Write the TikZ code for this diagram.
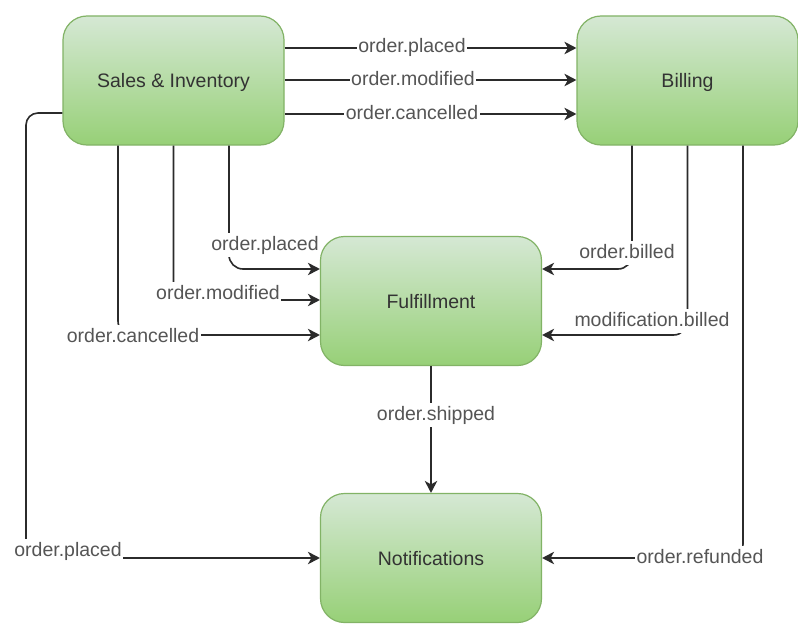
\documentclass[tikz,border=0pt]{standalone}
\usepackage{fontspec}
\setmainfont{Liberation Sans}
\usetikzlibrary{arrows.meta}
\definecolor{gtop}{HTML}{D5E8D4}
\definecolor{gbot}{HTML}{97D077}
\definecolor{gstroke}{HTML}{82B366}
\definecolor{lncol}{HTML}{2B2B2B}
\definecolor{lbltxt}{HTML}{555555}
\definecolor{boxtxt}{HTML}{333333}
\begin{document}
\begin{tikzpicture}[x=1pt,y=-1pt,
  svc/.style={draw=gstroke, line width=1.2pt, rounded corners=24pt,
    top color=gtop, bottom color=gbot, minimum width=221pt, minimum height=129pt,
    text=boxtxt, font=\fontsize{19.5}{23}\selectfont, inner sep=0pt, text depth=0pt},
  conn/.style={draw=lncol, line width=1.6pt, rounded corners=14pt,
    -{Stealth[length=12pt,width=12.5pt,inset=3.5pt]}},
  lbl/.style={fill=white, text=lbltxt, font=\fontsize{19.5}{23}\selectfont,
    inner xsep=1.5pt, inner ysep=3pt, text depth=4pt, rounded corners=0pt}]
\useasboundingbox (0,0) rectangle (798,634);
\fill[white] (0,0) rectangle (798,634);
% services
\node[svc] (S) at (173.5,80.5) {Sales \& Inventory};
\node[svc] (B) at (687.5,80.5) {Billing};
\node[svc] (F) at (431,301) {Fulfillment};
\node[svc] (N) at (431,558) {Notifications};
% Sales -> Billing
\draw[conn] ([yshift=32.5pt]S.east) -- ([yshift=32.5pt]B.west)
  node[lbl] (l1) at (412,47) {order.placed};
\draw[conn] ([yshift=0.5pt]S.east) -- ([yshift=0.5pt]B.west)
  node[lbl] (l2) at (413,80) {order.modified};
\draw[conn] ([yshift=-33.5pt]S.east) -- ([yshift=-33.5pt]B.west)
  node[lbl] (l3) at (412,114) {order.cancelled};
% Sales -> Fulfillment
\draw[conn] ([xshift=55.5pt]S.south) |- ([yshift=32pt]F.west)
  node[lbl] (l4) at (265,245) {order.placed};
\draw[conn] (S.south) |- ([yshift=1pt]F.west)
  node[lbl] (l5) at (218,294) {order.modified};
\draw[conn] ([xshift=-55.5pt]S.south) |- ([yshift=-34pt]F.west)
  node[lbl] (l6) at (133,337) {order.cancelled};
% Billing -> Fulfillment
\draw[conn] ([xshift=-55.5pt]B.south) |- ([yshift=32pt]F.east)
  node[lbl] (l7) at (627,253) {order.billed};
\draw[conn] (B.south) |- ([yshift=-34pt]F.east)
  node[lbl] (l8) at (652,321) {modification.billed};
% Billing -> Notifications
\draw[conn] ([xshift=55.5pt]B.south) |- (N.east)
  node[lbl] (l9) at (700,558) {order.refunded};
% Fulfillment -> Notifications
\draw[conn] (F.south) -- (N.north)
  node[lbl] (l10) at (436,415) {order.shipped};
% Sales -> Notifications
\coordinate (lc) at (26,558);
\draw[conn, rounded corners=12pt] ([yshift=-32.5pt]S.west) -| (lc) -- (N.west)
  node[lbl] (l11) at (68,551) {order.placed};
\end{tikzpicture}
\end{document}
